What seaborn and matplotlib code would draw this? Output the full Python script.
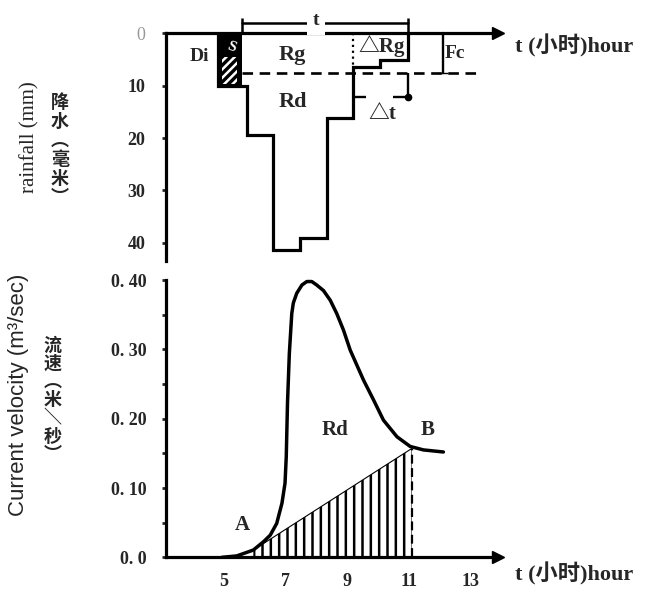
import matplotlib
matplotlib.use("Agg")
import matplotlib.pyplot as plt
import seaborn as sns
import pandas as pd

# rainfall hyetograph (top panel): hour edges and depth in mm
rain_edges = [4.81, 5.58, 5.74, 6.60, 7.47, 8.34, 9.20, 10.07, 10.99]
rain_mm = [10, 10, 19.5, 41.4, 39.1, 16.2, 6.4, 5.1]
di_edges = [4.81, 5.58]          # initial loss block "Di"
di_mm = 10
fc_mm = 7.6                      # infiltration line Fc
rain_ticks = [0, 10, 20, 30, 40]
rain_ticklabels = ["0", "10", "20", "30", "40"]

# hydrograph (bottom panel): hour and current velocity
flow_hours = [4.93, 5.41, 5.95, 6.28, 6.50, 6.71, 6.88, 6.98, 7.02, 7.06,
              7.12, 7.20, 7.25, 7.36, 7.53, 7.69, 7.85, 8.01, 8.23, 8.45,
              8.66, 8.88, 9.10, 9.53, 9.86, 10.18, 10.62, 11.05, 11.48, 12.13]
flow_vel = [0.0, 0.002, 0.0105, 0.0225, 0.032, 0.049, 0.078, 0.107, 0.145, 0.222,
            0.294, 0.352, 0.367, 0.381, 0.393, 0.398, 0.398, 0.393, 0.385, 0.371,
            0.352, 0.328, 0.299, 0.256, 0.227, 0.198, 0.174, 0.160, 0.155, 0.152]
base_hours = [5.95, 11.10]       # baseflow separation A -> B
base_vel = [0.0105, 0.157]
vel_ticks = [0.0, 0.10, 0.20, 0.30, 0.40]
vel_ticklabels = ["0. 0", "0. 10", "0. 20", "0. 30", "0. 40"]
hour_ticks = [5, 7, 9, 11, 13]

XLIM = (3.11, 13.9)
SERIF = ["Liberation Serif", "Noto Sans CJK SC"]
CJK = ["Noto Sans CJK SC", "DejaVu Sans"]


def main():
    sns.set_style("white")
    plt.rcParams["font.family"] = SERIF
    plt.rcParams["hatch.linewidth"] = 1.8

    fig = plt.figure(figsize=(6.45, 5.89), dpi=100)

    # ---------------- top: rainfall ----------------
    ax = fig.add_axes([0.2574, 0.5565, 0.5144, 0.427])
    ax.set_xlim(*XLIM)
    ax.set_ylim(43.5, -4.5)

    ax.bar(di_edges[0], di_mm, width=di_edges[1] - di_edges[0], align="edge",
           color="black", lw=0)
    ax.bar(di_edges[0] + 0.12, 5, bottom=4.6, width=0.5, align="edge",
           facecolor="none", edgecolor="white", hatch="////", lw=0)
    ax.text(5.22, 2.6, "S", color="white", fontsize=11, rotation=-20,
            ha="center", va="center", fontweight="bold")
    ax.stairs(rain_mm, rain_edges, baseline=0, color="black", lw=2.3)

    ax.hlines(fc_mm, rain_edges[1], 13.2, colors="black", linestyles=(0, (4, 2.5)), lw=1.9)
    ax.vlines(rain_edges[6], 0, rain_mm[6], colors="black", linestyles=":", lw=1.6)

    # t bracket
    ax.plot([rain_edges[1], rain_edges[-1]], [-1.9, -1.9], color="black", lw=1.8,
            clip_on=False)
    ax.vlines([rain_edges[1], rain_edges[-1]], -3, 0, colors="black", lw=1.8,
              clip_on=False)
    ax.text(8.0, -2.4, "t", fontsize=14, fontweight="bold", ha="center", va="center",
            bbox=dict(facecolor="white", edgecolor="none", pad=4), clip_on=False)

    # Fc bracket
    ax.plot([12.12, 12.12], [0, fc_mm], color="black", lw=1.7, marker="_", ms=7)
    ax.text(12.16, 3.9, "Fc", fontsize=14, fontweight="bold", ha="left", va="center")

    # delta t marker
    ax.hlines(12.2, rain_edges[6], 9.62, colors="black", lw=1.7)
    ax.hlines(12.2, 10.5, rain_edges[-1], colors="black", lw=1.7)
    ax.vlines(rain_edges[-1], fc_mm, 12.2, colors="black", lw=1.7)
    ax.plot(rain_edges[-1], 12.2, "o", color="black", ms=4.5)

    ax.text(4.5, 4.5, "Di", fontsize=14, fontweight="bold", ha="right", va="center")
    ax.text(7.22, 4.1, "Rg", fontsize=16, fontweight="bold", ha="center", va="center")
    ax.text(7.25, 13.1, "Rd", fontsize=16, fontweight="bold", ha="center", va="center")
    ax.text(10.12, 2.4, "△Rg", fontsize=15, fontweight="bold", ha="center", va="center")
    ax.text(10.15, 15.4, "△t", fontsize=15, fontweight="bold", ha="center", va="center")

    for side in ["right", "bottom"]:
        ax.spines[side].set_visible(False)
    ax.spines["top"].set_position(("data", 0))
    ax.spines["left"].set_bounds(0, 43.5)
    for side in ["top", "left"]:
        ax.spines[side].set_linewidth(2.3)
        ax.spines[side].set_color("black")
    ax.plot(1, 0, ">k", transform=ax.get_yaxis_transform(), clip_on=False, ms=8)
    ax.set_xticks([])
    ax.set_yticks(rain_ticks)
    ax.set_yticklabels(rain_ticklabels, fontsize=13, fontweight="bold")
    ax.get_yticklabels()[0].set_color("#999999")
    ax.get_yticklabels()[0].set_fontweight("normal")
    ax.tick_params(axis="y", left=True, length=3, width=2, pad=12)

    # ---------------- bottom: velocity ----------------
    bx = fig.add_axes([0.2574, 0.0538, 0.5144, 0.4941])
    bx.set_xlim(*XLIM)
    bx.set_ylim(0, 0.42)

    flow = pd.DataFrame({"hour": flow_hours, "vel": flow_vel})
    sns.lineplot(data=flow, x="hour", y="vel", ax=bx, color="black", lw=2.5,
                 sort=False, estimator=None)

    bx.fill_between(base_hours, 0, base_vel, facecolor="none", edgecolor="black",
                    hatch="||", lw=0)
    bx.plot(base_hours, base_vel, color="black", lw=0.8)
    bx.vlines(base_hours[-1], 0, base_vel[-1], colors="black",
              linestyles=(0, (4, 2)), lw=1.6)

    bx.text(5.59, 0.047, "A", fontsize=15, fontweight="bold", ha="center", va="center")
    bx.text(8.62, 0.184, "Rd", fontsize=15, fontweight="bold", ha="center", va="center")
    bx.text(11.63, 0.184, "B", fontsize=15, fontweight="bold", ha="center", va="center")

    for side in ["right", "top"]:
        bx.spines[side].set_visible(False)
    bx.spines["left"].set_bounds(0, 0.40)
    for side in ["left", "bottom"]:
        bx.spines[side].set_linewidth(2.3)
        bx.spines[side].set_color("black")
    bx.plot(1, 0, ">k", transform=bx.get_yaxis_transform(), clip_on=False, ms=8)
    bx.set_xlabel("")
    bx.set_ylabel("")
    bx.set_xticks(hour_ticks)
    bx.set_xticklabels([str(h) for h in hour_ticks], fontsize=13, fontweight="bold")
    bx.set_yticks(vel_ticks)
    bx.set_yticks([0.05, 0.15, 0.25, 0.35], minor=True)
    bx.set_yticklabels(vel_ticklabels, fontsize=13, fontweight="bold")
    bx.tick_params(axis="y", which="both", left=True, length=3, width=2, pad=11)
    bx.tick_params(axis="x", length=0, pad=11)

    # axis titles
    fig.text(0.798, 0.922, "t (小时)hour", fontsize=16, fontweight="bold",
             ha="left", va="center")
    fig.text(0.798, 0.0255, "t (小时)hour", fontsize=16, fontweight="bold",
             ha="left", va="center")
    fig.text(0.046, 0.7674, "rainfall (mm)", fontsize=15, rotation=90,
             ha="center", va="center")
    fig.text(0.093, 0.745, "降\n水\n︵\n毫\n米\n︶", fontsize=13, family=CJK,
             fontweight="bold", ha="center", va="center", linespacing=1.0)
    fig.text(0.029, 0.3294, "Current velocity (m³/sec)", fontsize=16, rotation=90,
             family=["Liberation Sans", "DejaVu Sans"], ha="center", va="center")
    fig.text(0.082, 0.321, "流\n速\n︵\n米\n＼\n秒\n︶", fontsize=13, family=CJK,
             fontweight="bold", ha="center", va="center", linespacing=0.95)

    fig.savefig("out.png", dpi=100)


if __name__ == "__main__":
    main()
